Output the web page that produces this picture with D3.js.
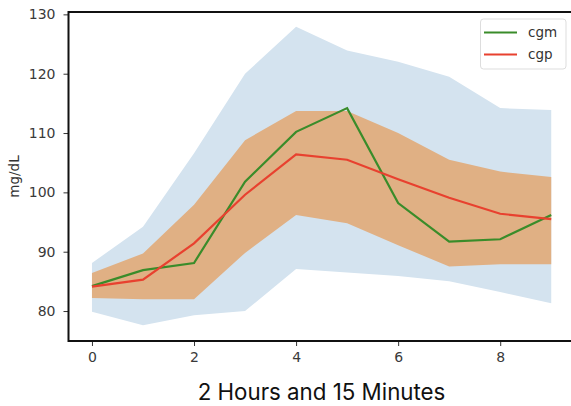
<!DOCTYPE html>
<html>
<head>
<meta charset="utf-8">
<title>cgm / cgp</title>
<script src="https://cdn.jsdelivr.net/npm/d3@7"></script>
<style>
  body { margin: 0; background: #fff; }
  .tick text { font-family: "DejaVu Sans", sans-serif; font-size: 14px; fill: #3a3a3a; }
</style>
</head>
<body>
<script>
// Steps along the x axis
var steps = [0, 1, 2, 3, 4, 5, 6, 7, 8, 9];

// Lines
var cgm = [84.2, 86.9, 88.1, 101.8, 110.2, 114.2, 98.2, 91.7, 92.1, 96.2];
var cgp = [84.1, 85.3, 91.4, 99.6, 106.4, 105.5, 102.2, 99.1, 96.4, 95.5];

// Outer (blue) band
var outerUpper = [88.1, 94.2, 106.6, 120.0, 127.9, 123.9, 122.0, 119.5, 114.2, 113.9];
var outerLower = [79.9, 77.6, 79.3, 80.0, 87.1, 86.5, 85.9, 85.0, 83.2, 81.3];

// Inner (orange) band
var innerUpper = [86.4, 89.7, 97.9, 108.8, 113.7, 113.7, 110.0, 105.5, 103.5, 102.6];
var innerLower = [82.2, 82.0, 82.0, 89.8, 96.2, 94.8, 91.1, 87.5, 87.9, 87.9];

// Tick labels
var xTicks = [0, 2, 4, 6, 8];
var yTicks = [80, 90, 100, 110, 120, 130];

var legendNames = ["cgm", "cgp"];
var lineColours = ["#3a8c2a", "#e8412f"];

window.onload = function() {
  var w = 571;
  var h = 406;
  var left = 68.5, top = 12, bottom = 341;

  var svg = d3.select("body").append("svg").attr("width", w).attr("height", h);

  var xScale = d3.scaleLinear().domain([-0.45, 9.45]).range([69, 574.2]);
  var yScale = d3.scaleLinear().domain([74.95, 130.4]).range([bottom, top]);

  // Bands
  function band(upper, lower) {
    return d3.area()
      .x(function(d) { return xScale(d); })
      .y0(function(d, i) { return yScale(lower[i]); })
      .y1(function(d, i) { return yScale(upper[i]); })(steps);
  }
  svg.append("path").attr("d", band(outerUpper, outerLower)).attr("fill", "#d4e3ef");
  svg.append("path").attr("d", band(innerUpper, innerLower)).attr("fill", "#e0b084");

  // Lines
  [cgm, cgp].forEach(function(series, k) {
    var line = d3.line()
      .x(function(d, i) { return xScale(steps[i]); })
      .y(function(d) { return yScale(d); });
    svg.append("path").attr("d", line(series))
       .attr("fill", "none").attr("stroke", lineColours[k]).attr("stroke-width", 2.2);
  });

  // Axes
  var xAxis = d3.axisBottom(xScale).tickValues(xTicks).tickSize(5).tickPadding(6).tickFormat(d3.format("d"));
  var yAxis = d3.axisLeft(yScale).tickValues(yTicks).tickSize(5).tickPadding(8).tickFormat(d3.format("d"));
  var gx = svg.append("g").attr("transform", "translate(0," + bottom + ")").call(xAxis);
  var gy = svg.append("g").attr("transform", "translate(" + left + ",0)").call(yAxis);
  gx.select(".domain").remove();
  gy.select(".domain").remove();
  svg.selectAll(".tick line").attr("stroke", "#333").attr("stroke-width", 1);

  // Spines
  svg.append("line").attr("x1", left).attr("x2", w).attr("y1", top).attr("y2", top)
     .attr("stroke", "#111").attr("stroke-width", 2);
  svg.append("line").attr("x1", left).attr("x2", w).attr("y1", bottom).attr("y2", bottom)
     .attr("stroke", "#111").attr("stroke-width", 2);
  svg.append("line").attr("x1", left).attr("x2", left).attr("y1", top - 1).attr("y2", bottom + 1)
     .attr("stroke", "#111").attr("stroke-width", 2);

  // Axis labels
  svg.append("text").attr("transform", "translate(19," + (top + bottom) / 2 + ") rotate(-90)")
     .style("text-anchor", "middle").style("font-family", "DejaVu Sans")
     .style("font-size", "13.5px").attr("fill", "#333").text("mg/dL");
  svg.append("text").attr("x", 321.5).attr("y", 400)
     .style("text-anchor", "middle").style("font-family", "Inter")
     .style("font-size", "22.3px").attr("fill", "#111").text("2 Hours and 15 Minutes");

  // Legend
  var legend = svg.append("g");
  legend.append("rect").attr("x", 480.5).attr("y", 19).attr("width", 85.5).attr("height", 50)
        .attr("rx", 3).attr("fill", "#fff").attr("fill-opacity", 0.85)
        .attr("stroke", "#ddd").attr("stroke-width", 1);
  legendNames.forEach(function(name, k) {
    var ly = 32.5 + k * 22;
    legend.append("line").attr("x1", 484).attr("x2", 517).attr("y1", ly).attr("y2", ly)
          .attr("stroke", lineColours[k]).attr("stroke-width", 2.2);
    legend.append("text").attr("x", 528).attr("y", ly + 4.5)
          .style("font-family", "DejaVu Sans").style("font-size", "13.5px")
          .attr("fill", "#333").text(name);
  });
};
</script>
</body>
</html>
